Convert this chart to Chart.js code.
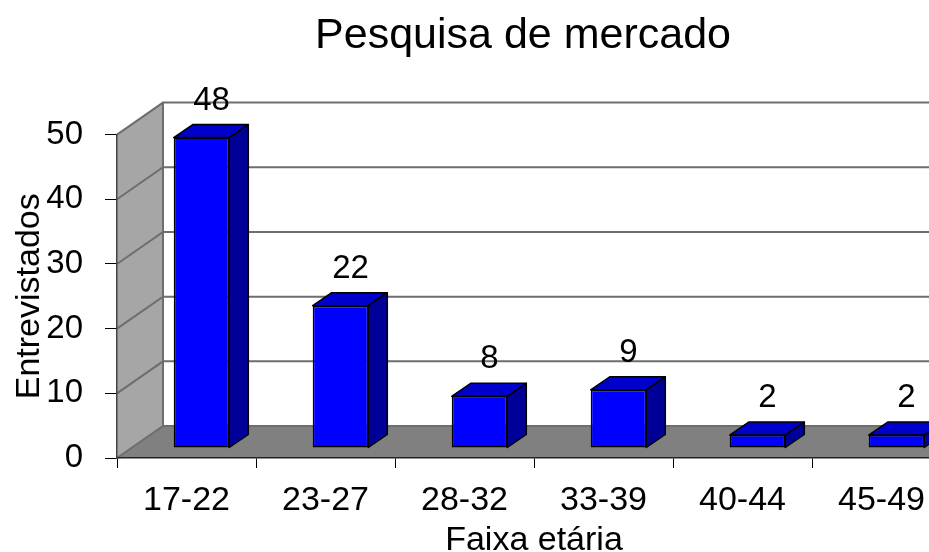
<!DOCTYPE html>
<html>
<head>
<meta charset="utf-8">
<script src="https://cdn.jsdelivr.net/npm/chart.js@4.4.1/dist/chart.umd.min.js"></script>
<style>
  html, body { margin: 0; padding: 0; background: #fff; overflow: hidden; }
  #wrap { width: 929px; height: 552px; overflow: hidden; position: relative; }
  canvas { display: block; }
</style>
</head>
<body>
<div id="wrap"><canvas id="grafico" width="1046" height="570"></canvas></div>
<script>
'use strict';

// dados
var faixas = ['17-22', '23-27', '28-32', '33-39', '40-44', '45-49'];
var entrevistados = [48, 22, 8, 9, 2, 2];
var marcasY = [0, 10, 20, 30, 40, 50];

var fonte = '"Liberation Sans", Arial, Helvetica, sans-serif';
var fundo = { x: 46, y: -32 };      // profundidade das paredes
var deslocBarra = { x: 15, y: -10 }; // barras ficam um pouco para dentro
var ladoBarra = { x: 19, y: -13 };   // espessura da barra

var efeito3d = {
  id: 'efeito3d',
  beforeDraw: function(chart) {
    var ctx = chart.ctx, a = chart.chartArea, ys = chart.scales.y;
    var dx = fundo.x, dy = fundo.y;
    ctx.save();
    // parede esquerda
    ctx.fillStyle = '#a6a6a6';
    ctx.beginPath();
    ctx.moveTo(a.left, a.top);
    ctx.lineTo(a.left + dx, a.top + dy);
    ctx.lineTo(a.left + dx, a.bottom + dy);
    ctx.lineTo(a.left, a.bottom);
    ctx.closePath();
    ctx.fill();
    // chao
    ctx.fillStyle = '#808080';
    ctx.beginPath();
    ctx.moveTo(a.left, a.bottom);
    ctx.lineTo(a.left + dx, a.bottom + dy);
    ctx.lineTo(a.right + dx, a.bottom + dy);
    ctx.lineTo(a.right, a.bottom);
    ctx.closePath();
    ctx.fill();
    // linhas de grade na parede lateral e no fundo
    ctx.strokeStyle = '#6e6e6e';
    ctx.lineWidth = 2;
    marcasY.forEach(function(v) {
      var y = ys.getPixelForValue(v);
      ctx.beginPath();
      ctx.moveTo(a.left, y);
      ctx.lineTo(a.left + dx, y + dy);
      ctx.lineTo(a.right + dx, y + dy);
      ctx.stroke();
    });
    ctx.beginPath();
    ctx.moveTo(a.left + dx, a.top + dy);
    ctx.lineTo(a.left + dx, a.bottom + dy);
    ctx.stroke();
    ctx.restore();
  },
  beforeDatasetsDraw: function(chart) {
    chart.ctx.save();
    chart.ctx.translate(deslocBarra.x, deslocBarra.y);
  },
  afterDatasetsDraw: function(chart) {
    var ctx = chart.ctx;
    ctx.restore();
    var meta = chart.getDatasetMeta(0);
    ctx.save();
    ctx.lineWidth = 1.5;
    ctx.strokeStyle = '#000';
    ctx.lineJoin = 'round';
    meta.data.forEach(function(bar, i) {
      var p = bar.getProps(['x', 'y', 'base', 'width'], true);
      var x0 = p.x - p.width / 2 + deslocBarra.x;
      var x1 = p.x + p.width / 2 + deslocBarra.x;
      var yt = p.y + deslocBarra.y, yb = p.base + deslocBarra.y;
      var ex = ladoBarra.x, ey = ladoBarra.y;
      // topo
      ctx.fillStyle = '#0000cc';
      ctx.beginPath();
      ctx.moveTo(x0, yt);
      ctx.lineTo(x0 + ex, yt + ey);
      ctx.lineTo(x1 + ex, yt + ey);
      ctx.lineTo(x1, yt);
      ctx.closePath();
      ctx.fill();
      ctx.stroke();
      // lado
      ctx.fillStyle = '#000099';
      ctx.beginPath();
      ctx.moveTo(x1, yt);
      ctx.lineTo(x1 + ex, yt + ey);
      ctx.lineTo(x1 + ex, yb + ey);
      ctx.lineTo(x1, yb);
      ctx.closePath();
      ctx.fill();
      ctx.stroke();
      // rotulo
      ctx.fillStyle = '#000';
      ctx.font = '33px ' + fonte;
      ctx.textAlign = 'center';
      ctx.textBaseline = 'middle';
      ctx.fillText(String(entrevistados[i]), p.x + deslocBarra.x + 10, yt - 37);
    });
    ctx.restore();
  }
};

var ctx = document.getElementById('grafico').getContext('2d');
window.grafico = new Chart(ctx, {
  type: 'bar',
  data: {
    labels: faixas,
    datasets: [{
      data: entrevistados,
      backgroundColor: '#0000ff',
      borderColor: '#000',
      borderWidth: 1.5,
      borderSkipped: false,
      barPercentage: 0.4,
      categoryPercentage: 1,
      clip: false
    }]
  },
  options: {
    responsive: false,
    animation: false,
    layout: { padding: 0 },
    plugins: {
      legend: { display: false },
      tooltip: { enabled: false },
      title: {
        display: true,
        text: 'Pesquisa de mercado',
        color: '#000',
        font: { family: fonte, size: 43, weight: 'normal' },
        padding: { top: 10, bottom: 73 }
      }
    },
    scales: {
      x: {
        grid: { drawOnChartArea: false, tickLength: 10, color: '#000', offset: true },
        border: { color: '#222', width: 1.5 },
        ticks: { color: '#000', font: { family: fonte, size: 34 }, padding: 12, maxRotation: 0, autoSkip: false },
        title: { display: true, text: 'Faixa etária', color: '#000', font: { family: fonte, size: 34 }, padding: { top: 0, bottom: 9 } },
        afterFit: function(s) { s.height = 112; }
      },
      y: {
        min: 0,
        max: 50,
        afterBuildTicks: function(s) { s.ticks = marcasY.map(function(v) { return { value: v }; }); },
        ticks: { color: '#000', font: { family: fonte, size: 33 }, padding: 22 },
        grid: { drawOnChartArea: false, tickLength: 12, color: '#000' },
        border: { color: '#444', width: 1.5 },
        title: { display: true, text: 'Entrevistados', color: '#000', font: { family: fonte, size: 34 }, padding: { top: 9, bottom: 0 } },
        afterFit: function(s) { s.width = 117; }
      },
      // espaco para a profundidade do fundo, a direita
      margem: {
        type: 'linear',
        position: 'right',
        grid: { display: false },
        border: { display: false },
        ticks: { display: false },
        afterFit: function(s) { s.width = 95; }
      }
    }
  },
  plugins: [efeito3d]
});
</script>
</body>
</html>
